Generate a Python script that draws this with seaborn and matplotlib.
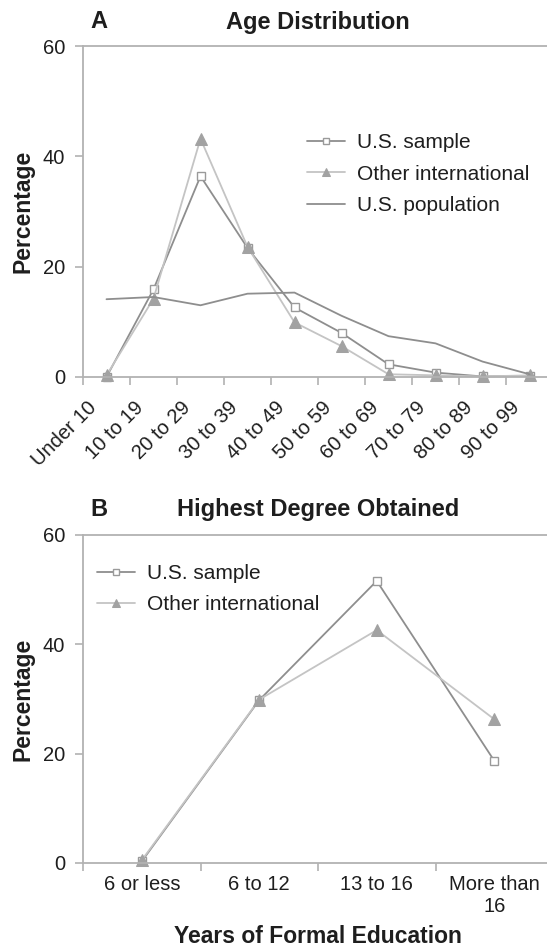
import matplotlib
matplotlib.use("Agg")
import matplotlib.pyplot as plt
import matplotlib.transforms as mtransforms
import seaborn as sns

# Panel A: age distribution (percent of respondents)
age_groups = ["Under 10", "10 to 19", "20 to 29", "30 to 39", "40 to 49",
              "50 to 59", "60 to 69", "70 to 79", "80 to 89", "90 to 99"]
us_sample_age = [0.0, 15.9, 36.4, 23.4, 12.6, 8.0, 2.3, 0.8, 0.1, 0.2]
other_intl_age = [0.3, 14.2, 43.2, 23.6, 9.9, 5.6, 0.5, 0.3, 0.1, 0.3]
us_population_age = [14.1, 14.5, 13.0, 15.1, 15.3, 11.1, 7.4, 6.1, 2.8, 0.5]

# Panel B: years of formal education (percent of respondents)
education = ["6 or less", "6 to 12", "13 to 16", "More than\n16"]
us_sample_edu = [0.3, 29.8, 51.6, 18.7]
other_intl_edu = [0.5, 29.9, 42.6, 26.3]

y_ticks = [0, 20, 40, 60]

sns.set_style("ticks")
plt.rcParams["font.family"] = ["Liberation Sans", "DejaVu Sans"]

SPINE = "#b2b2b2"
TEXT = "#1e1e1e"
DARK_LINE = "#8e8e8e"
LIGHT_LINE = "#c4c4c4"
MARK = "#a2a2a2"
W, H = 547, 949

fig = plt.figure(figsize=(W / 100, H / 100), dpi=100)
axA = fig.add_axes([83 / W, 1 - 377 / H, 470 / W, 331 / H])
axB = fig.add_axes([83 / W, 1 - 863 / H, 470 / W, 328 / H])

square_kw = dict(marker="s", markersize=5.5, markerfacecolor="white",
                 markeredgecolor="#9a9a9a", markeredgewidth=1.0,
                 color=DARK_LINE, linewidth=1.3, clip_on=False)
tri_kw = dict(marker="^", markersize=8, markerfacecolor=MARK,
              markeredgecolor=MARK, color=LIGHT_LINE, linewidth=1.3,
              clip_on=False)

sns.lineplot(x=age_groups, y=us_sample_age, ax=axA, label="U.S. sample", **square_kw)
sns.lineplot(x=age_groups, y=other_intl_age, ax=axA, label="Other international", **tri_kw)
sns.lineplot(x=age_groups, y=us_population_age, ax=axA, label="U.S. population",
             color=DARK_LINE, linewidth=1.3)

sns.lineplot(x=education, y=us_sample_edu, ax=axB, label="U.S. sample", **square_kw)
sns.lineplot(x=education, y=other_intl_edu, ax=axB, label="Other international", **tri_kw)


def style_axes(ax, n, xpad):
    ax.set_xlim(-0.5, n - 0.5)
    ax.set_ylim(0, 60)
    ax.set_yticks(y_ticks)
    for side in ["left", "bottom", "top", "right"]:
        ax.spines[side].set_color(SPINE)
        ax.spines[side].set_linewidth(1.3)
    ax.tick_params(axis="y", length=6, width=1.2, color=SPINE,
                   labelsize=14.5, labelcolor=TEXT, pad=7)
    ax.set_xticks([i - 0.5 for i in range(n + 1)], minor=True)
    ax.tick_params(axis="x", which="major", length=0, labelsize=14.5,
                   labelcolor=TEXT, pad=xpad)
    ax.tick_params(axis="x", which="minor", length=6, width=1.2, color=SPINE)
    ax.set_ylabel("Percentage", fontsize=16.5, fontweight="bold",
                  color=TEXT, labelpad=6)
    ax.set_xlabel("")


style_axes(axA, len(age_groups), 15)
style_axes(axB, len(education), 9)

# Slanted age labels, nudged slightly left of their category
shift = mtransforms.ScaledTranslation(-6 / 100, 0, fig.dpi_scale_trans)
for lab in axA.get_xticklabels():
    lab.set_rotation(45)
    lab.set_ha("right")
    lab.set_va("top")
    lab.set_transform(lab.get_transform() + shift)

fig.text(318 / W, 1 - 943 / H, "Years of Formal Education", fontsize=16.5,
         fontweight="bold", color=TEXT, ha="center", va="baseline")

axA.set_title("Age Distribution", fontsize=17, fontweight="bold",
              color=TEXT, pad=12.5)
axB.set_title("Highest Degree Obtained", fontsize=17, fontweight="bold",
              color=TEXT, pad=13.5)
fig.text(90 / W, 1 - 28 / H, "A", fontsize=17, fontweight="bold",
         color=TEXT, va="baseline")
fig.text(90 / W, 1 - 516 / H, "B", fontsize=17, fontweight="bold",
         color=TEXT, va="baseline")

leg_kw = dict(loc="upper left", frameon=False, fontsize=15,
              handlelength=1.8, handletextpad=0.6, labelspacing=0.6,
              borderpad=0, borderaxespad=0, labelcolor=TEXT, markerscale=0.75)
axA.legend(bbox_to_anchor=(0.477, 0.737), **leg_kw)
axB.legend(bbox_to_anchor=(0.03, 0.912), **leg_kw)

fig.savefig("out.png", dpi=100)
